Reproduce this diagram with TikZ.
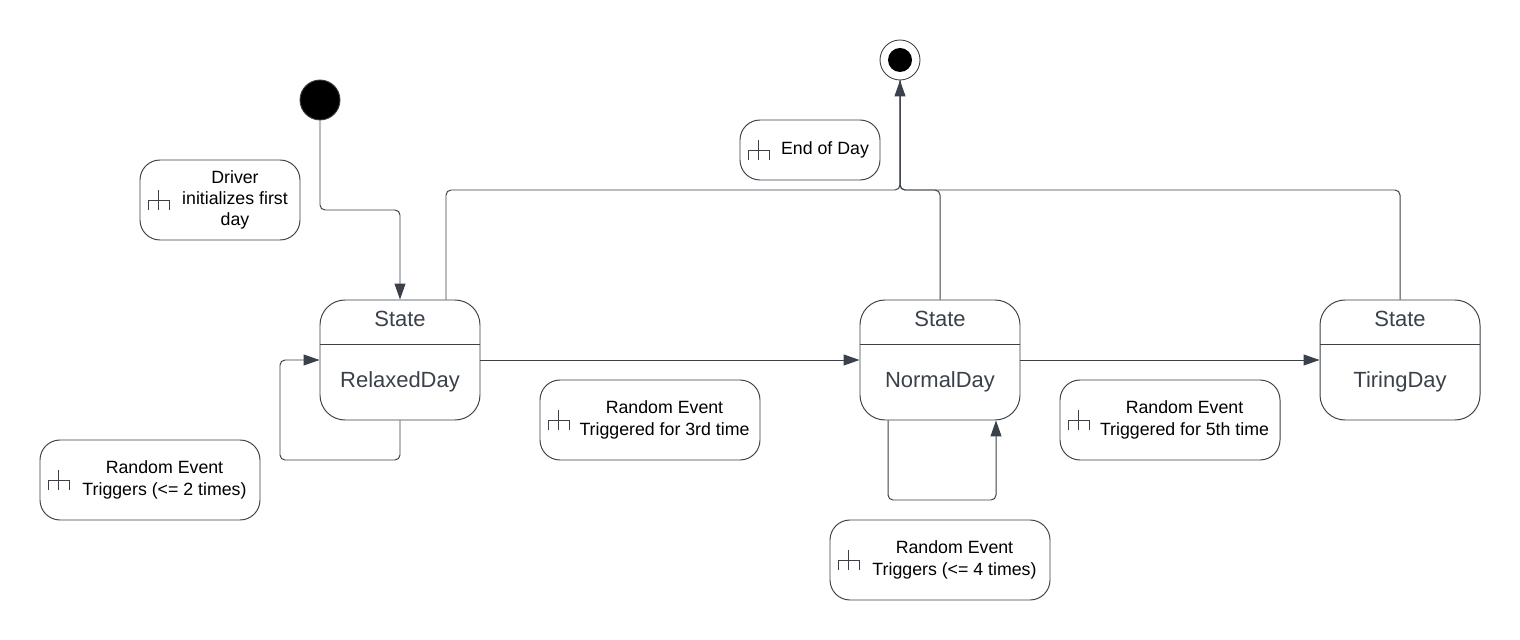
\documentclass[tikz,border=0pt]{standalone}
\usepackage{fontspec}
\setmainfont{Liberation Sans}
\usetikzlibrary{arrows.meta}
\definecolor{linegray}{HTML}{3A414A}
\tikzset{forkicon/.pic={
  \draw[linegray,line width=.35pt] (0,.2) -- (0,-.2);
  \draw[linegray,line width=.35pt] (-.21,-.2) -- (-.21,0) -- (.21,0) -- (.21,-.2);
}}
\begin{document}
\begin{tikzpicture}[
  statebox/.style={draw=linegray,rounded corners=.5cm,minimum width=3.2cm,
    minimum height=2.4cm,inner sep=0pt,text=linegray,font=\fontsize{12.5}{15}\selectfont,
    text height=1.48cm,text depth=.36cm,line width=.55pt,
    label={[statetitle]center:State},
    path picture={\draw[linegray,line width=.5pt]
      ([yshift=-.88cm]path picture bounding box.north west) --
      ([yshift=-.88cm]path picture bounding box.north east);}},
  statetitle/.style={yshift=.82cm,text=linegray,font=\fontsize{12.5}{15}\selectfont},
  notebox/.style={draw=linegray,rounded corners=.4cm,minimum height=1.6cm,line width=.55pt},
  notetext/.style={align=center,font=\fontsize{10.1}{12.1}\selectfont},
  startdot/.style={circle,draw=linegray,fill=black,minimum size=.8cm,inner sep=0pt,line width=.5pt},
  endring/.style={circle,draw=linegray,fill=white,minimum size=.8cm,inner sep=0pt,line width=.5pt},
  enddot/.style={circle,fill=black,minimum size=.48cm,inner sep=0pt},
  flow/.style={draw=linegray,line width=.56pt,rounded corners=.1cm,
    -{Triangle[length=.32cm,width=.22cm,color=linegray]}},
  plain/.style={draw=linegray,line width=.56pt,rounded corners=.1cm}]
\useasboundingbox (0,0) rectangle (30.4,-12.8);
\node[startdot] (init) at (6.4,-2) {};
\node[endring] (final) at (18,-1.2) {};
\node[enddot] (finaldot) at (18,-1.2) {};
\node[statebox] (relaxed) at (8,-7.2) {RelaxedDay};
\node[statebox] (normal) at (18.8,-7.2) {NormalDay};
\node[statebox] (tiring) at (28,-7.2) {TiringDay};
\node[notebox,minimum width=3.2cm] (drivernote) at (4.4,-4) {};
\node[notetext] (drivertext) at (4.7,-4) {Driver\\initializes first\\day};
\node[notebox,minimum width=2.8cm,minimum height=1.2cm] (endnote) at (16.2,-3) {};
\node[notetext] (endtext) at (16.5,-3) {End of Day};
\node[notebox,minimum width=4.4cm] (note2) at (3,-9.6) {};
\node[notetext] (text2) at (3.29,-9.6) {Random Event\\Triggers (<= 2 times)};
\node[notebox,minimum width=4.4cm] (note3) at (13,-8.4) {};
\node[notetext] (text3) at (13.29,-8.4) {Random Event\\Triggered for 3rd time};
\node[notebox,minimum width=4.4cm] (note5) at (23.4,-8.4) {};
\node[notetext] (text5) at (23.69,-8.4) {Random Event\\Triggered for 5th time};
\node[notebox,minimum width=4.4cm] (note4) at (18.8,-11.2) {};
\node[notetext] (text4) at (19.09,-11.2) {Random Event\\Triggers (<= 4 times)};
\pic at ([xshift=.38cm]drivernote.west) {forkicon};
\pic at ([xshift=.38cm]endnote.west) {forkicon};
\pic at ([xshift=.38cm]note2.west) {forkicon};
\pic at ([xshift=.38cm]note3.west) {forkicon};
\pic at ([xshift=.38cm]note5.west) {forkicon};
\pic at ([xshift=.38cm]note4.west) {forkicon};
\coordinate (initbend) at (6.4,-4.2);
\coordinate (relaxedtop) at (8.92,-3.8);
\coordinate (merge) at (18,-3.8);
\coordinate (loopa) at (8,-9.2);
\coordinate (loopb) at (5.6,-9.2);
\coordinate (loopc) at (5.6,-7.2);
\coordinate (loopd) at (17.76,-10);
\coordinate (loope) at (19.92,-10);
\draw[flow] (init.south) -- (initbend) -| (relaxed.north);
\draw[flow] (relaxed.south) -- (loopa) -- (loopb) -- (loopc) -- (relaxed.west);
\draw[flow] (relaxed.east) -- (normal.west);
\draw[flow] (normal.east) -- (tiring.west);
\draw[flow] ([xshift=-1.04cm]normal.south) -- (loopd) -- (loope) -- ([xshift=1.12cm]normal.south);
\draw[flow] ([xshift=.92cm]relaxed.north) -- (relaxedtop) -- (merge) -- (final.south);
\draw[plain] (normal.north) |- (merge) -- (final.south);
\draw[plain] (tiring.north) |- (merge) -- (final.south);
\end{tikzpicture}
\end{document}
